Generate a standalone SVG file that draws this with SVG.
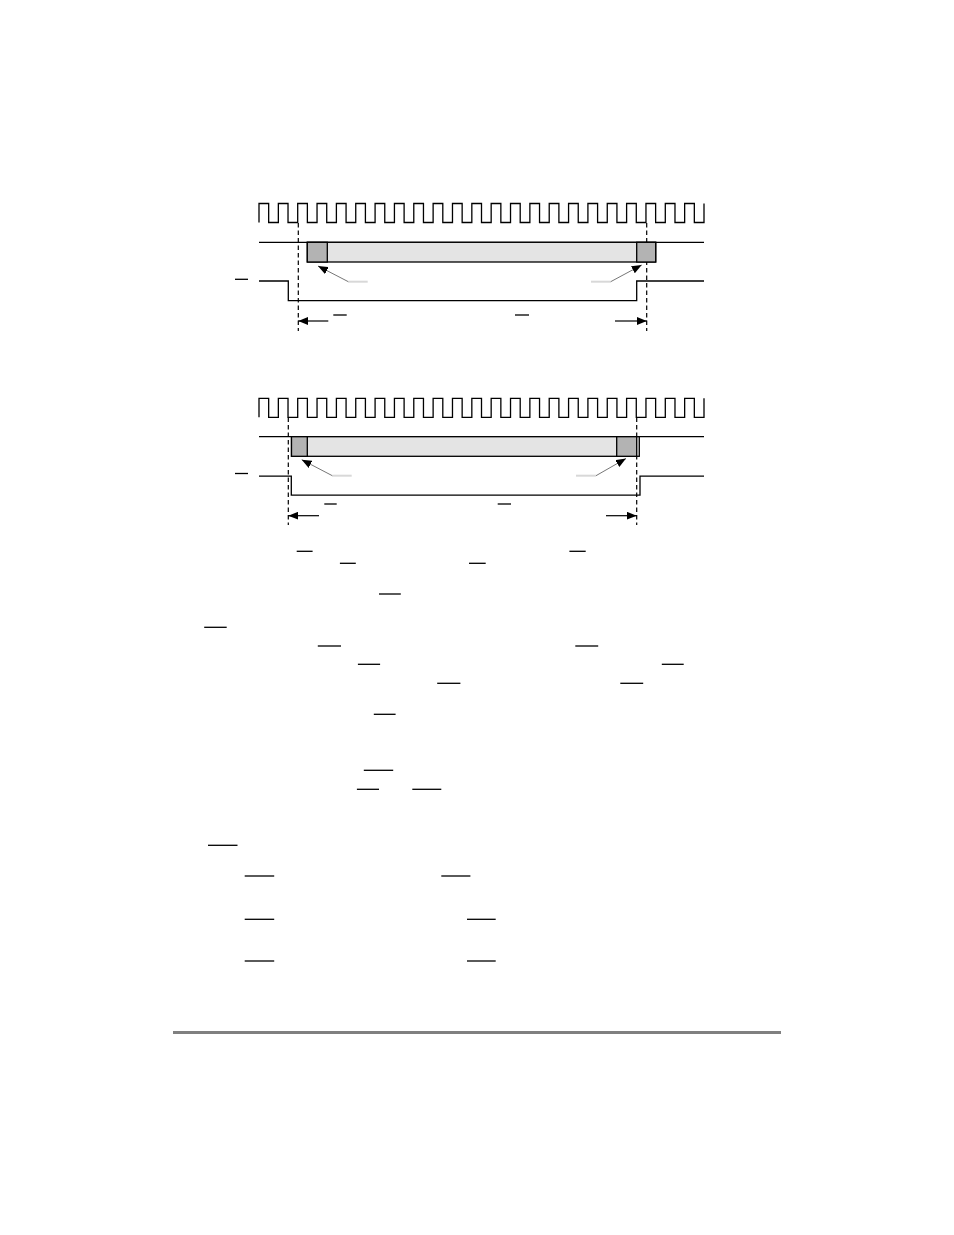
<svg xmlns="http://www.w3.org/2000/svg" width="954" height="1235" viewBox="0 0 954 1235">
<style>
.w{fill:none;stroke:#000;stroke-width:1.3}
.dash{fill:none;stroke:#000;stroke-width:1.2;stroke-dasharray:4.5 3}
.bar{stroke:#000;stroke-width:1.3}
.lt{fill:#e4e4e4;stroke:#000;stroke-width:1.3}
.dk{fill:#b3b3b3;stroke:#000;stroke-width:1.3}
.ptr{fill:none;stroke:#666;stroke-width:0.9}
.gl{stroke:#d8d8d8;stroke-width:2}
.dim{fill:none;stroke:#000;stroke-width:1.2}
</style>
<defs>
<marker id="ah" viewBox="0 0 10 8" refX="10" refY="4" markerWidth="10" markerHeight="8" markerUnits="userSpaceOnUse" orient="auto">
<path d="M0,0 L10,4 L0,8 Z" fill="#000"/>
</marker>
<path id="clk" class="w" d="M259,222.5 V203.5 H268.67 V222.5 H278.35 V203.5 H288.02 V222.5 H297.70 V203.5 H307.37 V222.5 H317.04 V203.5 H326.72 V222.5 H336.39 V203.5 H346.07 V222.5 H355.74 V203.5 H365.41 V222.5 H375.09 V203.5 H384.76 V222.5 H394.43 V203.5 H404.11 V222.5 H413.78 V203.5 H423.46 V222.5 H433.13 V203.5 H442.80 V222.5 H452.48 V203.5 H462.15 V222.5 H471.83 V203.5 H481.50 V222.5 H491.17 V203.5 H500.85 V222.5 H510.52 V203.5 H520.20 V222.5 H529.87 V203.5 H539.54 V222.5 H549.22 V203.5 H558.89 V222.5 H568.57 V203.5 H578.24 V222.5 H587.91 V203.5 H597.59 V222.5 H607.26 V203.5 H616.93 V222.5 H626.61 V203.5 H636.28 V222.5 H645.96 V203.5 H655.63 V222.5 H665.30 V203.5 H674.98 V222.5 H684.65 V203.5 H694.33 V222.5 H704 V203.5"/>
</defs>
<rect width="954" height="1235" fill="#fff"/>

<!-- Connectors (drawn first so the boxes cover the dashed guides) -->
<g id="connectors">
<line class="dash" x1="298.3" y1="223" x2="298.3" y2="331"/>
<line class="dash" x1="646.7" y1="223" x2="646.7" y2="331"/>
<line class="dash" x1="288.3" y1="417.5" x2="288.3" y2="525"/>
<line class="dash" x1="636.7" y1="417.5" x2="636.7" y2="525"/>

<line class="gl" x1="348.3" y1="281.7" x2="367.7" y2="281.7"/>
<line class="ptr" x1="348.3" y1="281.7" x2="318" y2="266" marker-end="url(#ah)"/>
<line class="gl" x1="591" y1="281.7" x2="610.7" y2="281.7"/>
<line class="ptr" x1="610.7" y1="281.7" x2="641.7" y2="265" marker-end="url(#ah)"/>

<line class="gl" x1="332.3" y1="475.7" x2="351.7" y2="475.7"/>
<line class="ptr" x1="332.3" y1="475.7" x2="301.7" y2="459.7" marker-end="url(#ah)"/>
<line class="gl" x1="576" y1="475.7" x2="596" y2="475.7"/>
<line class="ptr" x1="596" y1="475.7" x2="626" y2="458.5" marker-end="url(#ah)"/>

<line class="dim" x1="328.3" y1="321" x2="298.3" y2="321" marker-end="url(#ah)"/>
<line class="dim" x1="615" y1="321" x2="646.7" y2="321" marker-end="url(#ah)"/>
<line class="dim" x1="319" y1="515.7" x2="288.3" y2="515.7" marker-end="url(#ah)"/>
<line class="dim" x1="606" y1="515.7" x2="636.7" y2="515.7" marker-end="url(#ah)"/>
</g>

<!-- Timing diagram 1 -->
<g id="clock1"><use href="#clk"/></g>
<g id="bus1">
<line class="w" x1="259" y1="242.3" x2="704" y2="242.3"/>
<rect class="lt" x="307.3" y="242.3" width="348.4" height="19.7"/>
<rect class="dk" x="307.3" y="242.3" width="20" height="19.7"/>
<rect class="dk" x="636.7" y="242.3" width="19" height="19.7"/>
</g>
<g id="signal1">
<path class="w" d="M259,281 H288.3 V300.7 H636.7 V281 H704"/>
<line class="bar" x1="235" y1="279.3" x2="248" y2="279.3"/>
</g>
<g id="dims1">
<line class="bar" x1="333.3" y1="315" x2="346.7" y2="315"/>
<line class="bar" x1="515" y1="315" x2="529" y2="315"/>
</g>

<!-- Timing diagram 2 -->
<g id="clock2"><use href="#clk" transform="translate(0,194.8)"/></g>
<g id="bus2">
<line class="w" x1="259" y1="436.7" x2="704" y2="436.7"/>
<rect class="lt" x="291.5" y="436.7" width="347.8" height="19.6"/>
<rect class="dk" x="291.5" y="436.7" width="15.8" height="19.6"/>
<rect class="dk" x="616.7" y="436.7" width="20" height="19.6"/>
</g>
<g id="signal2">
<path class="w" d="M259,476.2 H291.3 V495.2 H640 V476.2 H704"/>
<line class="bar" x1="235" y1="473.5" x2="248" y2="473.5"/>
</g>
<g id="dims2">
<line class="bar" x1="324.3" y1="504" x2="336.7" y2="504"/>
<line class="bar" x1="497.7" y1="504" x2="511" y2="504"/>
</g>

<!-- Overbars of body text -->
<g id="overbars">
<line class="bar" x1="296.7" y1="551.3" x2="312.6" y2="551.3"/>
<line class="bar" x1="569.4" y1="551.3" x2="585.7" y2="551.3"/>
<line class="bar" x1="339.9" y1="563.3" x2="355.8" y2="563.3"/>
<line class="bar" x1="469" y1="563.3" x2="485.7" y2="563.3"/>
<line class="bar" x1="379" y1="594" x2="400.8" y2="594"/>
<line class="bar" x1="204.2" y1="627.3" x2="226.7" y2="627.3"/>
<line class="bar" x1="317.8" y1="646" x2="341" y2="646"/>
<line class="bar" x1="575.3" y1="646" x2="598.2" y2="646"/>
<line class="bar" x1="357.9" y1="664.3" x2="380.1" y2="664.3"/>
<line class="bar" x1="661.8" y1="664.3" x2="683.7" y2="664.3"/>
<line class="bar" x1="437.2" y1="683.3" x2="460.4" y2="683.3"/>
<line class="bar" x1="620.3" y1="683.3" x2="643.2" y2="683.3"/>
<line class="bar" x1="373.8" y1="714.3" x2="395.6" y2="714.3"/>
<line class="bar" x1="363.8" y1="770.3" x2="393.2" y2="770.3"/>
<line class="bar" x1="356.9" y1="789.3" x2="379" y2="789.3"/>
<line class="bar" x1="412.3" y1="789.3" x2="441.3" y2="789.3"/>
<line class="bar" x1="208" y1="845.3" x2="237.5" y2="845.3"/>
<line class="bar" x1="244.7" y1="876" x2="274.2" y2="876"/>
<line class="bar" x1="441.3" y1="876" x2="470.4" y2="876"/>
<line class="bar" x1="244.7" y1="919.3" x2="274.2" y2="919.3"/>
<line class="bar" x1="467" y1="919.3" x2="495.7" y2="919.3"/>
<line class="bar" x1="244.7" y1="961" x2="274.2" y2="961"/>
<line class="bar" x1="467" y1="961" x2="495.7" y2="961"/>
</g>

<g id="rule">
<line x1="173" y1="1032.5" x2="781" y2="1032.5" stroke="#808080" stroke-width="3"/>
</g>
</svg>
